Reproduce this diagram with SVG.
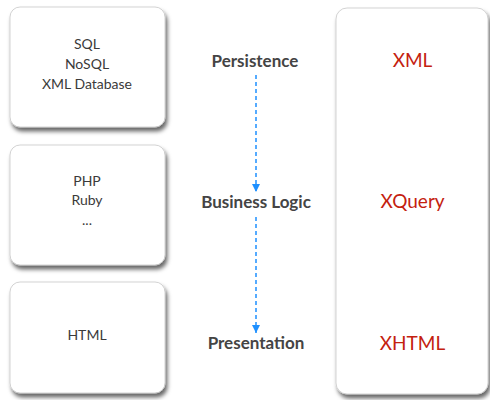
<svg xmlns="http://www.w3.org/2000/svg" width="490" height="400" viewBox="0 0 490 400">
  <style>
    .box { fill: #ffffff; stroke: #c8c8c8; stroke-width: 0.8; filter: url(#shadow); }
    .lbl { font-family: Lato, "Open Sans", sans-serif; font-size: 14px; fill: #3a3a3a; text-anchor: middle; }
    .layer { font-family: Lato, "Open Sans", sans-serif; font-size: 17px; font-weight: bold; fill: #444444; text-anchor: middle; }
    .tech { font-family: Lato, "Open Sans", sans-serif; font-size: 19px; fill: #c4210f; text-anchor: middle; }
    .flow { fill: none; stroke: #1e90ff; stroke-width: 1.5; stroke-dasharray: 4 3; }
  </style>
  <defs>
    <filter id="shadow" x="-10%" y="-10%" width="125%" height="125%">
      <feDropShadow dx="2" dy="4" stdDeviation="2" flood-color="#000000" flood-opacity="0.6"/>
    </filter>
    <marker id="arrow" markerWidth="10" markerHeight="10" refX="8" refY="4" orient="auto" markerUnits="userSpaceOnUse">
      <path d="M0,0 L8,4 L0,8 Z" fill="#1e90ff"/>
    </marker>
  </defs>

  <g id="node-storage">
    <rect class="box" x="10" y="7" width="155" height="120" rx="10" ry="10"/>
    <text class="lbl" x="87" y="49">SQL</text>
    <text class="lbl" x="87" y="69">NoSQL</text>
    <text class="lbl" x="87" y="89">XML Database</text>
  </g>

  <g id="node-languages">
    <rect class="box" x="10" y="145" width="155" height="120" rx="10" ry="10"/>
    <text class="lbl" x="87" y="186">PHP</text>
    <text class="lbl" x="87" y="205">Ruby</text>
    <text class="lbl" x="87" y="225">...</text>
  </g>

  <g id="node-html">
    <rect class="box" x="10" y="282" width="155" height="111" rx="10" ry="10"/>
    <text class="lbl" x="87" y="340">HTML</text>
  </g>

  <g id="node-persistence">
    <text class="layer" x="255" y="67">Persistence</text>
  </g>
  <g id="node-business">
    <text class="layer" x="256" y="208">Business Logic</text>
  </g>
  <g id="node-presentation">
    <text class="layer" x="256" y="349">Presentation</text>
  </g>

  <g id="node-xstack">
    <rect class="box" x="336" y="8" width="152" height="386" rx="11" ry="11"/>
    <text class="tech" x="412.5" y="67">XML</text>
    <text class="tech" x="412.5" y="208">XQuery</text>
    <text class="tech" x="412.5" y="350">XHTML</text>
  </g>

  <g id="connectors">
    <line class="flow" x1="256" y1="75" x2="256" y2="192" marker-end="url(#arrow)"/>
    <line class="flow" x1="256" y1="217" x2="256" y2="333" marker-end="url(#arrow)"/>
  </g>
</svg>
